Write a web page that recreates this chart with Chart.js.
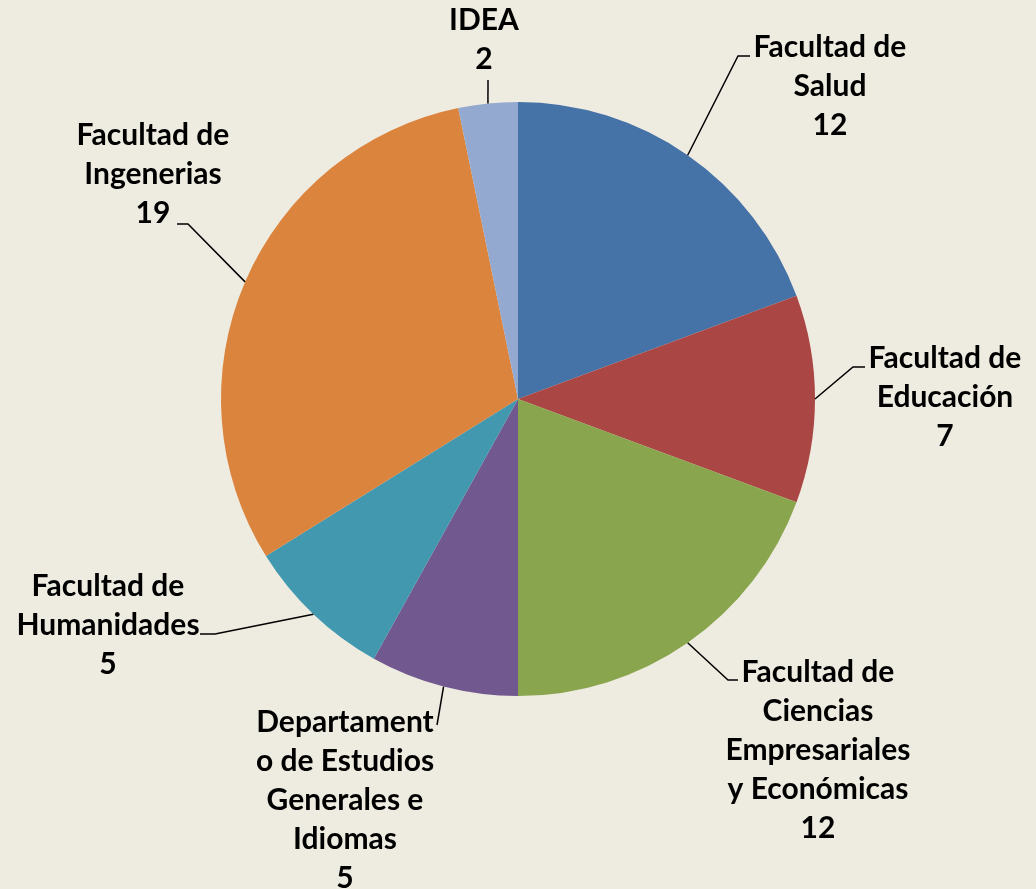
<!DOCTYPE html>
<html>
<head>
<meta charset="utf-8">
<script src="https://cdn.jsdelivr.net/npm/chart.js@4.4.1/dist/chart.umd.min.js"></script>
<style>
    html, body { margin: 0; padding: 0; background: #EEEBE0; }
    #wrap { width: 1036px; height: 889px; position: relative; }
</style>
</head>
<body>
<div id="wrap"><canvas id="pie" width="1036" height="889"></canvas></div>
<script>
// ---- Data ----
const categories = [
    ['Facultad de', 'Salud'],
    ['Facultad de', 'Educación'],
    ['Facultad de', 'Ciencias', 'Empresariales', 'y Económicas'],
    ['Departament', 'o de Estudios', 'Generales e', 'Idiomas'],
    ['Facultad de', 'Humanidades'],
    ['Facultad de', 'Ingenerias'],
    ['IDEA']
];
const values = [12, 7, 12, 5, 5, 19, 2];
const colors = ['#4572A7', '#AA4643', '#89A54E', '#71588F', '#4198AF', '#DB843D', '#93A9CF'];

// label placement: text centre x, first line y, leader elbow and end
const labelLayout = [
    { cx: 830, y: 47,  elbow: [738, 56],  end: [750, 56] },
    { cx: 945, y: 358, elbow: [853, 367], end: [865, 367] },
    { cx: 818, y: 672, elbow: [728, 680], end: [738, 680] },
    { cx: 345, y: 722, elbow: [437, 725], end: [437, 725] },
    { cx: 108, y: 586, elbow: [215, 634], end: [200, 634] },
    { cx: 153, y: 135, elbow: [188, 224], end: [177, 224] },
    { cx: 484, y: 20,  elbow: [488, 80],  end: [488, 80] }
];
const LINE_H = 39;
const FONT = 'bold 30px Lato, "Open Sans", sans-serif';

// ---- Leader-line labels ----
const leaderLabels = {
    id: 'leaderLabels',
    afterDatasetsDraw(chart) {
        const ctx = chart.ctx;
        const arcs = chart.getDatasetMeta(0).data;
        ctx.save();
        arcs.forEach((arc, i) => {
            const p = arc.getProps(['x', 'y', 'startAngle', 'endAngle', 'outerRadius'], true);
            const mid = (p.startAngle + p.endAngle) / 2;
            const ax = p.x + Math.cos(mid) * p.outerRadius;
            const ay = p.y + Math.sin(mid) * p.outerRadius;
            const lay = labelLayout[i];

            ctx.strokeStyle = '#000';
            ctx.lineWidth = 1.5;
            ctx.beginPath();
            ctx.moveTo(ax, ay);
            ctx.lineTo(lay.elbow[0], lay.elbow[1]);
            ctx.lineTo(lay.end[0], lay.end[1]);
            ctx.stroke();

            const lines = categories[i].concat([String(values[i])]);
            ctx.fillStyle = '#000';
            ctx.font = FONT;
            ctx.textAlign = 'center';
            ctx.textBaseline = 'middle';
            lines.forEach((t, k) => ctx.fillText(t, lay.cx, lay.y + k * LINE_H));
        });
        ctx.restore();
    }
};

new Chart(document.getElementById('pie'), {
    type: 'pie',
    data: {
        labels: categories,
        datasets: [{
            data: values,
            backgroundColor: colors,
            borderWidth: 0
        }]
    },
    options: {
        responsive: false,
        animation: false,
        layout: { padding: { left: 221, right: 221, top: 102, bottom: 193 } },
        plugins: {
            legend: { display: false },
            tooltip: { enabled: false }
        }
    },
    plugins: [leaderLabels]
});
</script>
</body>
</html>
